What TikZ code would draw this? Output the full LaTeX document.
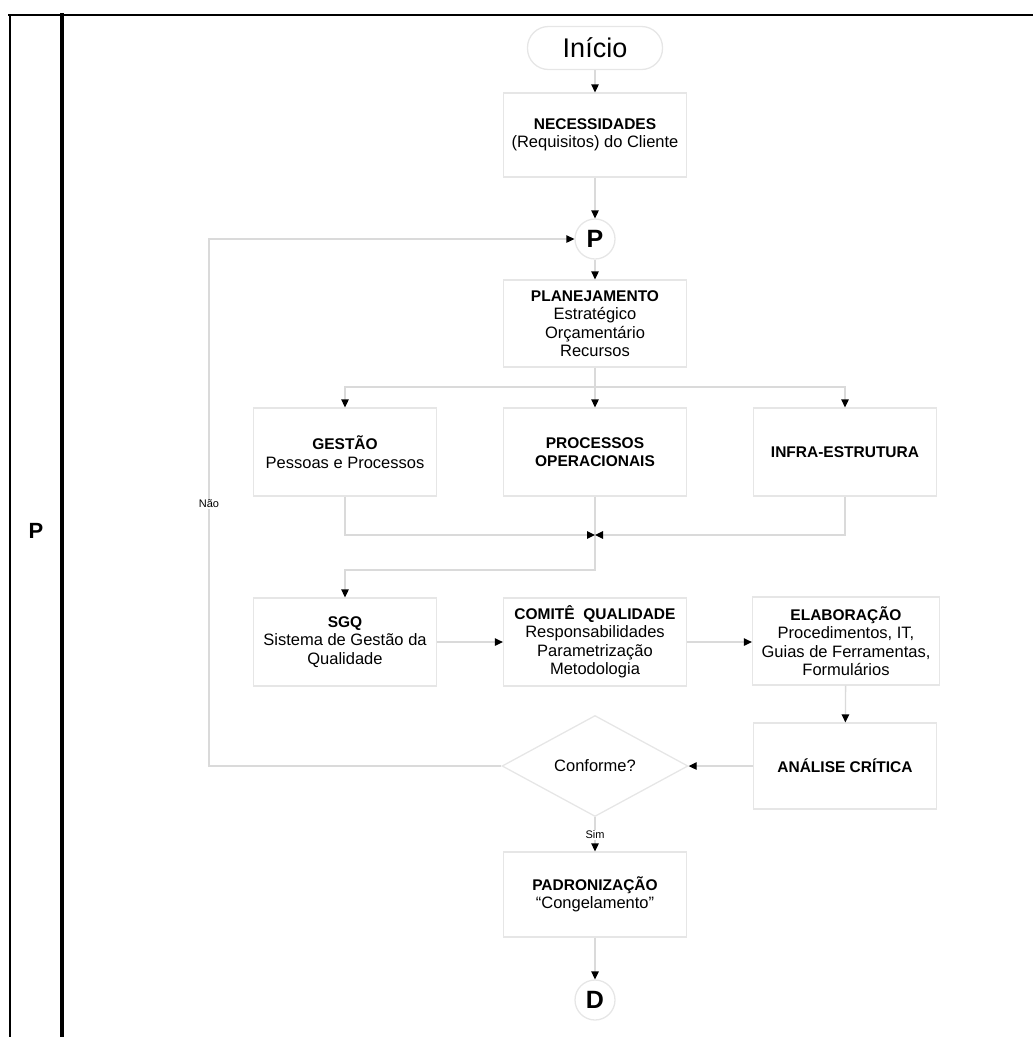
\documentclass[tikz,border=0pt]{standalone}
\usepackage{fontspec}
\setmainfont{Liberation Sans}
\usetikzlibrary{arrows.meta,shapes.geometric}
\definecolor{framegray}{HTML}{E6E6E6}
\definecolor{wiregray}{HTML}{DADADA}
\newcommand\hdr[1]{{\fontsize{15.5}{18.5}\selectfont\bfseries #1}}
\begin{document}
\begin{tikzpicture}[x=1pt,y=-1pt,
  stepbox/.style={draw=framegray,line width=1.3pt,minimum width=183pt,
    minimum height=86pt,align=center,inner sep=2pt,
    font=\fontsize{16.5}{18.5}\selectfont},
  connector/.style={circle,draw=framegray,line width=1.3pt,minimum size=40pt,
    inner sep=0pt,font=\fontsize{25}{25}\selectfont\bfseries},
  wire/.style={draw=wiregray,line width=1.3pt},
  flow/.style={wire,-{Triangle[length=8pt,width=7.5pt,color=black]}},
  tag/.style={fill=white,inner sep=1pt,font=\fontsize{11}{11}\selectfont},
  lane/.style={draw=black,line cap=rect}]
\useasboundingbox (0,0) rectangle (1033,1037);

% swimlane frame
\draw[lane,line width=2.5pt] (9,15) -- (1033,15);
\draw[lane,line width=2pt] (10,15) -- (10,1037);
\draw[lane,line width=4pt] (62,15) -- (62,1037);
\node[font=\fontsize{22}{22}\selectfont\bfseries] (lanep) at (36,531) {P};

% start and main column
\node[draw=framegray,line width=1.3pt,rounded corners=21pt,minimum width=135pt,
  minimum height=43pt,font=\fontsize{27}{27}\selectfont] (inicio) at (595,48) {Início};
\node[stepbox,minimum height=84pt] (nec) at (595,135)
  {\hdr{NECESSIDADES}\\(Requisitos) do Cliente};
\node[connector] (pc) at (595,239) {P};
\node[stepbox,minimum height=87pt] (plan) at (595,323.5)
  {\hdr{PLANEJAMENTO}\\Estratégico\\Orçamentário\\Recursos};

% first row
\node[stepbox,minimum height=88pt] (gestao) at (345,452)
  {\hdr{GESTÃO}\\Pessoas e Processos};
\node[stepbox,minimum height=88pt] (proc) at (595,452)
  {\hdr{PROCESSOS}\\\hdr{OPERACIONAIS}};
\node[stepbox,minimum height=88pt] (infra) at (845,452)
  {\hdr{INFRA-ESTRUTURA}};

% second row
\node[stepbox,minimum height=88pt] (sgq) at (345,642)
  {\hdr{SGQ}\\Sistema de Gestão da\\Qualidade};
\node[stepbox,minimum height=88pt] (comite) at (595,642)
  {\hdr{COMITÊ~ QUALIDADE}\\Responsabilidades\\Parametrização\\Metodologia};
\node[stepbox,minimum height=88pt,minimum width=187pt] (elab) at (846,641)
  {\hdr{ELABORAÇÃO}\\Procedimentos, IT,\\Guias de Ferramentas,\\Formulários};

% review and decision
\node[stepbox,minimum height=86pt] (analise) at (845,766) {\hdr{ANÁLISE CRÍTICA}};
\node[diamond,draw=framegray,line width=1.3pt,minimum width=186pt,minimum height=101pt,
  inner sep=0pt,font=\fontsize{16.5}{18.5}\selectfont] (conf) at (595,766) {Conforme?};

% standardisation
\node[stepbox,minimum height=85pt] (pad) at (595,894.5)
  {\hdr{PADRONIZAÇÃO}\\“Congelamento”};
\node[connector] (dc) at (595,1000) {D};

% flow
\draw[flow] (inicio) -- (nec);
\draw[flow] (nec) -- (pc);
\draw[flow] (pc) -- (plan);
\coordinate (split) at (595,387);
\draw[wire] (plan.south) -- (split);
\draw[flow] (split) -| (gestao.north);
\draw[flow] (split) -- (proc.north);
\draw[flow] (split) -| (infra.north);
\coordinate (join) at (595,535);
\coordinate (turn) at (595,570);
\draw[flow] (proc.south) -- (turn) -| (sgq.north);
\draw[flow] (gestao.south) |- (join);
\draw[flow] (infra.south) |- (join);
\draw[flow] (sgq) -- (comite);
\draw[flow] (comite) -- (elab.west |- comite.east);
\draw[flow] (elab) -- (analise);
\draw[flow] (analise) -- (conf);
\coordinate (back) at (209,766);
\draw[flow] (conf.west) -- (back) |- (pc.west);
\node[tag] (nao) at (209,504) {Não};
\draw[flow] (conf.south) -- (pad.north);
\node[tag] (sim) at (595,835) {Sim};
\draw[flow] (pad) -- (dc);
\end{tikzpicture}
\end{document}
